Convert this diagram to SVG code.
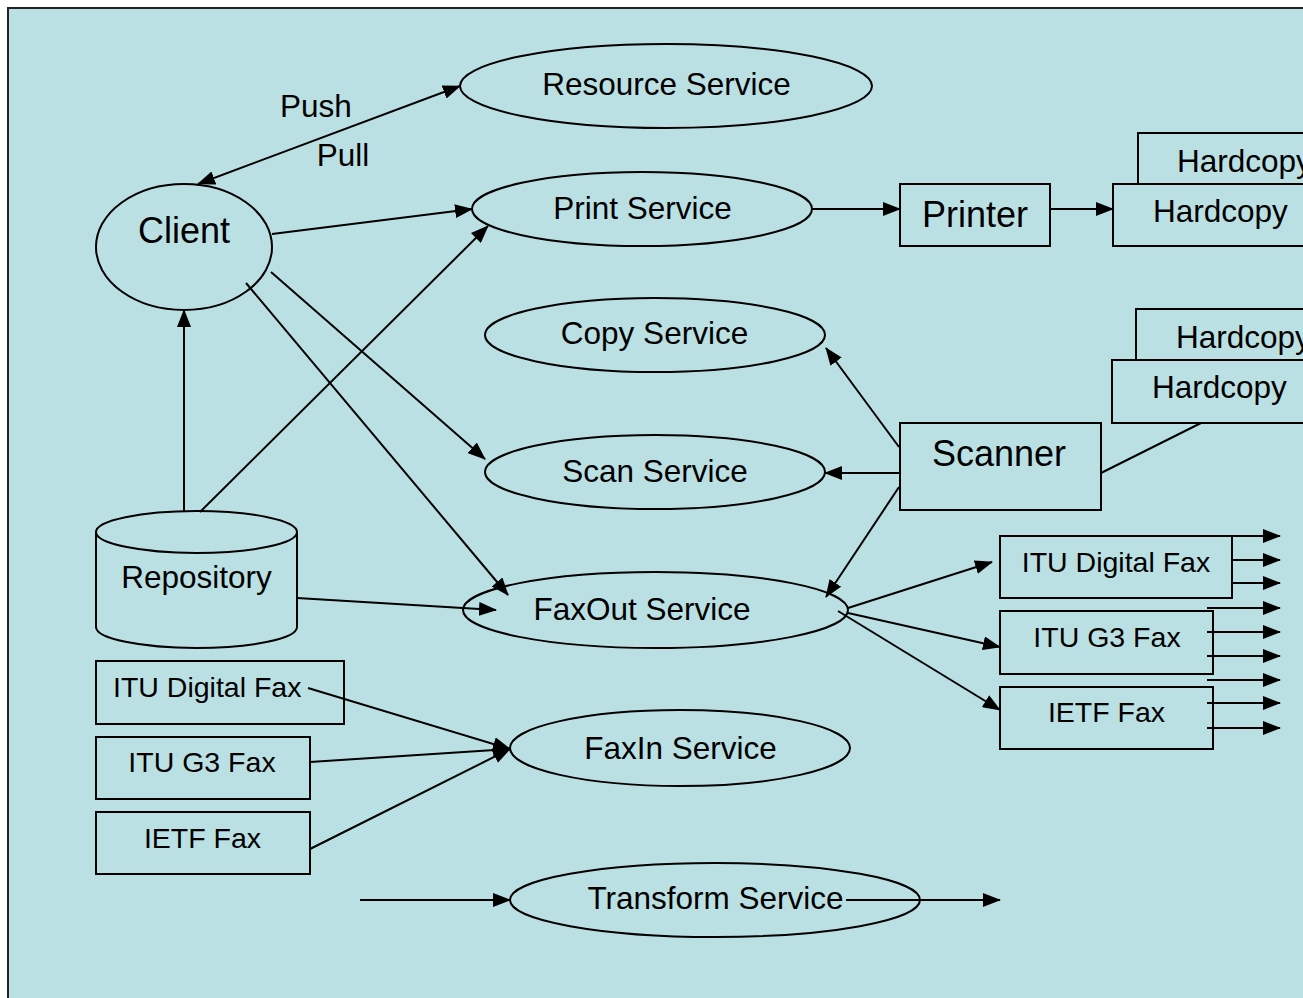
<svg xmlns="http://www.w3.org/2000/svg" width="1303" height="998" viewBox="0 0 1303 998">
<style>
.sh{fill:#BBE0E3;stroke:#000;stroke-width:2}
.t{font-family:"Liberation Sans",Arial,sans-serif;font-size:31.5px;fill:#000}
.b{font-size:36px}
.f{font-size:28.5px}
.m{text-anchor:middle}
.c{fill:none;stroke:#000;stroke-width:2}
.a{marker-end:url(#ah)}
</style>
<defs>
<marker id="ah" markerWidth="18" markerHeight="14" refX="17" refY="7" orient="auto-start-reverse" markerUnits="userSpaceOnUse">
<path d="M0,0 L18,7 L0,14 z" fill="#000"/>
</marker>
</defs>
<rect x="0" y="0" width="1303" height="998" fill="#fff"/>
<rect x="8" y="8" width="1400" height="1100" fill="#BBE0E3" stroke="#222" stroke-width="2"/>

<g id="resource-service"><ellipse class="sh" cx="666" cy="86" rx="206" ry="42"/><text class="t m" x="666.5" y="95">Resource Service</text></g>
<g id="client"><ellipse class="sh" cx="184" cy="247" rx="88" ry="63"/><text class="t b m" x="184" y="243">Client</text></g>
<g id="print-service"><ellipse class="sh" cx="642" cy="209" rx="170" ry="37"/><text class="t m" x="642.5" y="219">Print Service</text></g>
<g id="printer"><rect class="sh" x="900" y="184" width="150" height="62"/><text class="t b m" x="975" y="227">Printer</text></g>
<g id="hardcopy-print-back"><rect class="sh" x="1138" y="133" width="250" height="60"/><text class="t" x="1177" y="172">Hardcopy</text></g>
<g id="hardcopy-print"><rect class="sh" x="1113" y="184" width="250" height="62"/><text class="t" x="1153" y="222">Hardcopy</text></g>
<g id="copy-service"><ellipse class="sh" cx="655" cy="335" rx="170" ry="37"/><text class="t m" x="654.5" y="344">Copy Service</text></g>
<g id="hardcopy-scan-back"><rect class="sh" x="1136" y="309" width="250" height="60"/><text class="t" x="1176" y="348">Hardcopy</text></g>
<g id="hardcopy-scan"><rect class="sh" x="1112" y="360" width="250" height="63"/><text class="t" x="1152" y="398">Hardcopy</text></g>
<g id="scanner"><rect class="sh" x="900" y="423" width="201" height="87"/><text class="t b" x="932" y="466">Scanner</text></g>
<g id="scan-service"><ellipse class="sh" cx="655" cy="472" rx="170" ry="37"/><text class="t m" x="655" y="482">Scan Service</text></g>
<g id="repository">
<path class="sh" d="M96,532 L96,627 A100.5,21 0 0 0 297,627 L297,532"/>
<ellipse class="sh" cx="196.5" cy="532" rx="100.5" ry="21"/>
<text class="t m" x="196.5" y="588">Repository</text>
</g>
<g id="faxout-service"><ellipse class="sh" cx="655.5" cy="610" rx="192.5" ry="38"/><text class="t m" x="642" y="620">FaxOut Service</text></g>
<g id="out-itu-digital-fax"><rect class="sh" x="1000" y="536" width="232" height="62"/><text class="t f m" x="1116" y="572">ITU Digital Fax</text></g>
<g id="out-itu-g3-fax"><rect class="sh" x="1000" y="611" width="213" height="63"/><text class="t f m" x="1107" y="647">ITU G3 Fax</text></g>
<g id="out-ietf-fax"><rect class="sh" x="1000" y="687" width="213" height="62"/><text class="t f m" x="1106.5" y="722">IETF Fax</text></g>
<g id="in-itu-digital-fax"><rect class="sh" x="96" y="661" width="248" height="63"/><text class="t f" x="113" y="697">ITU Digital Fax</text></g>
<g id="in-itu-g3-fax"><rect class="sh" x="96" y="737" width="214" height="62"/><text class="t f m" x="202" y="772">ITU G3 Fax</text></g>
<g id="in-ietf-fax"><rect class="sh" x="96" y="812" width="214" height="62"/><text class="t f m" x="202.5" y="848">IETF Fax</text></g>
<g id="faxin-service"><ellipse class="sh" cx="680" cy="748" rx="170" ry="38"/><text class="t m" x="680.5" y="759">FaxIn Service</text></g>
<g id="transform-service"><ellipse class="sh" cx="715" cy="900" rx="205" ry="37"/><text class="t m" x="715.5" y="909">Transform Service</text></g>

<g id="connectors">
<line class="c" x1="198" y1="184" x2="460" y2="86" marker-start="url(#ah)" marker-end="url(#ah)"/>
<text class="t m" x="316" y="117">Push</text>
<text class="t m" x="343" y="166">Pull</text>
<line class="c a" x1="272" y1="234" x2="472" y2="209"/>
<line class="c a" x1="200" y1="512" x2="488" y2="226"/>
<line class="c a" x1="184" y1="511" x2="184" y2="310"/>
<line class="c a" x1="271" y1="272" x2="485" y2="459"/>
<line class="c a" x1="246" y1="283" x2="508" y2="595"/>
<line class="c a" x1="297" y1="598" x2="496" y2="610"/>
<line class="c a" x1="812" y1="209" x2="900" y2="209"/>
<line class="c a" x1="1050" y1="209" x2="1113" y2="209"/>
<line class="c" x1="1101" y1="473" x2="1201" y2="423"/>
<line class="c a" x1="899" y1="447" x2="826" y2="348"/>
<line class="c a" x1="899" y1="473" x2="825" y2="473"/>
<line class="c a" x1="899" y1="487" x2="826" y2="597"/>
<line class="c a" x1="848" y1="608" x2="992" y2="562"/>
<line class="c a" x1="848" y1="613" x2="1000" y2="647"/>
<line class="c a" x1="838" y1="611" x2="1000" y2="710"/>
<line class="c a" x1="1232" y1="536" x2="1280" y2="536"/>
<line class="c a" x1="1232" y1="560" x2="1280" y2="560"/>
<line class="c a" x1="1232" y1="583" x2="1280" y2="583"/>
<line class="c a" x1="1207" y1="608" x2="1280" y2="608"/>
<line class="c a" x1="1207" y1="632" x2="1280" y2="632"/>
<line class="c a" x1="1207" y1="656" x2="1280" y2="656"/>
<line class="c a" x1="1207" y1="680" x2="1280" y2="680"/>
<line class="c a" x1="1207" y1="703" x2="1280" y2="703"/>
<line class="c a" x1="1207" y1="728" x2="1280" y2="728"/>
<line class="c a" x1="308" y1="688" x2="510" y2="749"/>
<line class="c a" x1="310" y1="762" x2="510" y2="749"/>
<line class="c a" x1="310" y1="849" x2="510" y2="749"/>
<line class="c a" x1="360" y1="900" x2="510" y2="900"/>
<line class="c a" x1="846" y1="900" x2="1000" y2="900"/>
</g>
</svg>
